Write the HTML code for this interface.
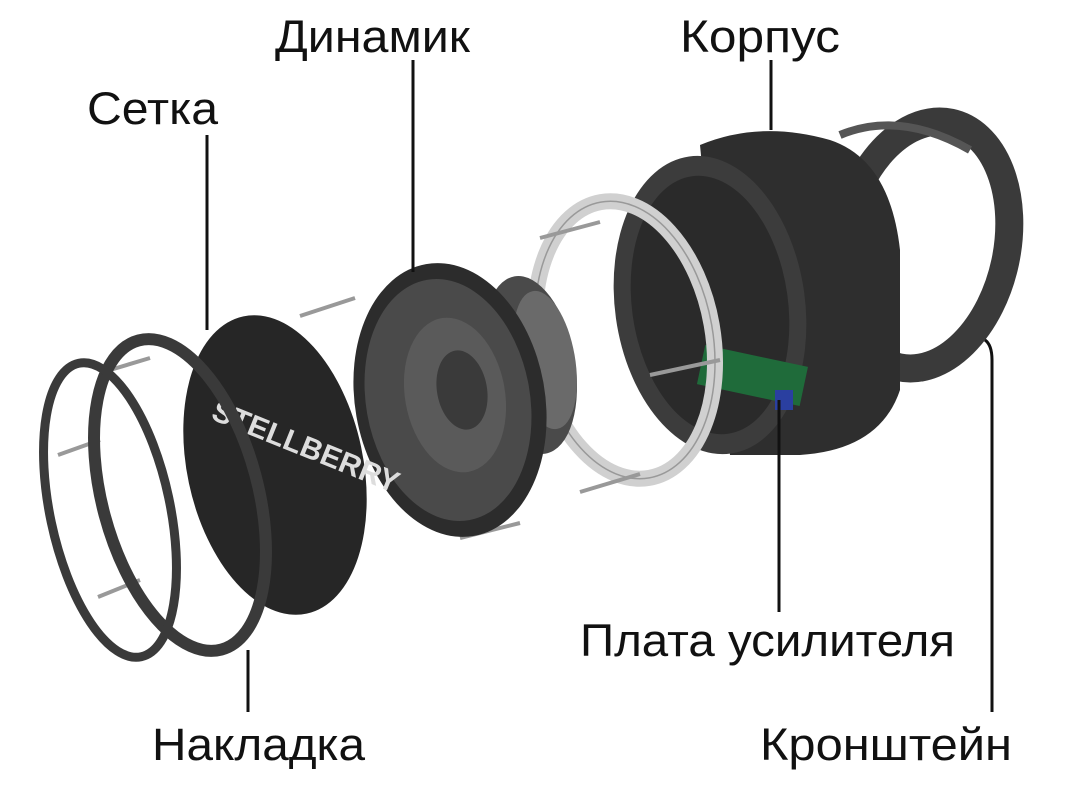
<!DOCTYPE html>
<html><head><meta charset="utf-8"><style>
html,body{margin:0;padding:0;background:#fff;}
svg{display:block}
text{font-family:"Liberation Sans",sans-serif;font-size:45px;fill:#111}
</style></head><body>
<svg width="1065" height="802" viewBox="0 0 1065 802">
<!-- bracket -->
<g transform="rotate(12 925 245)">
<ellipse cx="925" cy="245" rx="82" ry="125" fill="none" stroke="#3a3a3a" stroke-width="28"/>
</g>
<path d="M840 135 Q900 110 970 150" stroke="#555" stroke-width="8" fill="none"/>
<!-- body cylinder -->
<path d="M700 145 Q760 120 830 140 Q890 160 900 250 L900 390 Q880 450 800 455 L730 455 Z" fill="#2e2e2e"/>
<ellipse cx="710" cy="305" rx="95" ry="150" fill="#3c3c3c" transform="rotate(-8 710 305)"/>
<ellipse cx="710" cy="305" rx="78" ry="130" fill="#2a2a2a" transform="rotate(-8 710 305)"/>
<rect x="700" y="355" width="105" height="40" fill="#1f6b3a" transform="rotate(12 750 375)"/>
<rect x="775" y="390" width="18" height="20" fill="#2a3fa0"/>
<!-- clear ring -->
<ellipse cx="625" cy="340" rx="88" ry="140" fill="none" stroke="#d0d0d0" stroke-width="16" transform="rotate(-10 625 340)"/>
<ellipse cx="625" cy="340" rx="88" ry="140" fill="none" stroke="#999" stroke-width="1.5" transform="rotate(-10 625 340)"/>
<!-- screws -->
<g stroke="#999" stroke-width="4">
<line x1="540" y1="238" x2="600" y2="222"/><line x1="580" y1="492" x2="640" y2="474"/>
<line x1="300" y1="316" x2="355" y2="298"/><line x1="650" y1="375" x2="720" y2="360"/>
<line x1="438" y1="346" x2="500" y2="330"/><line x1="460" y1="538" x2="520" y2="523"/>
<line x1="58" y1="455" x2="100" y2="440"/><line x1="98" y1="597" x2="140" y2="580"/>
<line x1="246" y1="580" x2="290" y2="565"/><line x1="110" y1="370" x2="150" y2="358"/>
</g>
<!-- magnet -->
<ellipse cx="530" cy="365" rx="45" ry="90" fill="#4a4a4a" transform="rotate(-10 530 365)"/>
<ellipse cx="545" cy="360" rx="30" ry="70" fill="#6a6a6a" transform="rotate(-10 545 360)"/>
<!-- speaker -->
<ellipse cx="450" cy="400" rx="95" ry="138" fill="#2c2c2c" transform="rotate(-10 450 400)"/>
<ellipse cx="448" cy="400" rx="82" ry="122" fill="#4a4a4a" transform="rotate(-10 448 400)"/>
<ellipse cx="455" cy="395" rx="50" ry="78" fill="#5a5a5a" transform="rotate(-10 455 395)"/>
<ellipse cx="462" cy="390" rx="25" ry="40" fill="#3a3a3a" transform="rotate(-10 462 390)"/>
<!-- mesh -->
<ellipse cx="275" cy="465" rx="88" ry="152" fill="#262626" transform="rotate(-12 275 465)"/>
<text x="195" y="445" style="font-size:30px;font-weight:bold;fill:#ddd" transform="rotate(22 270 470)">STELLBERRY</text>
<!-- rings -->
<ellipse cx="180" cy="495" rx="78" ry="160" fill="none" stroke="#3a3a3a" stroke-width="12" transform="rotate(-15 180 495)"/>
<ellipse cx="110" cy="510" rx="60" ry="150" fill="none" stroke="#3a3a3a" stroke-width="9" transform="rotate(-12 110 510)"/>
<!-- leader lines -->
<g stroke="#111" stroke-width="3" fill="none">
<line x1="207" y1="135" x2="207" y2="330"/>
<line x1="413" y1="60" x2="413" y2="272"/>
<line x1="771" y1="60" x2="771" y2="130"/>
<line x1="779" y1="400" x2="779" y2="612"/>
<line x1="248" y1="650" x2="248" y2="712"/>
<path d="M985 340 Q992 345 992 360 L992 712"/>
</g>
<text x="87" y="124" textLength="131" lengthAdjust="spacingAndGlyphs">Сетка</text>
<text x="275" y="52" textLength="195" lengthAdjust="spacingAndGlyphs">Динамик</text>
<text x="680" y="52" textLength="160" lengthAdjust="spacingAndGlyphs">Корпус</text>
<text x="580" y="656" textLength="375" lengthAdjust="spacingAndGlyphs">Плата усилителя</text>
<text x="152" y="760" textLength="213" lengthAdjust="spacingAndGlyphs">Накладка</text>
<text x="760" y="760" textLength="252" lengthAdjust="spacingAndGlyphs">Кронштейн</text>
</svg>
</body></html>
